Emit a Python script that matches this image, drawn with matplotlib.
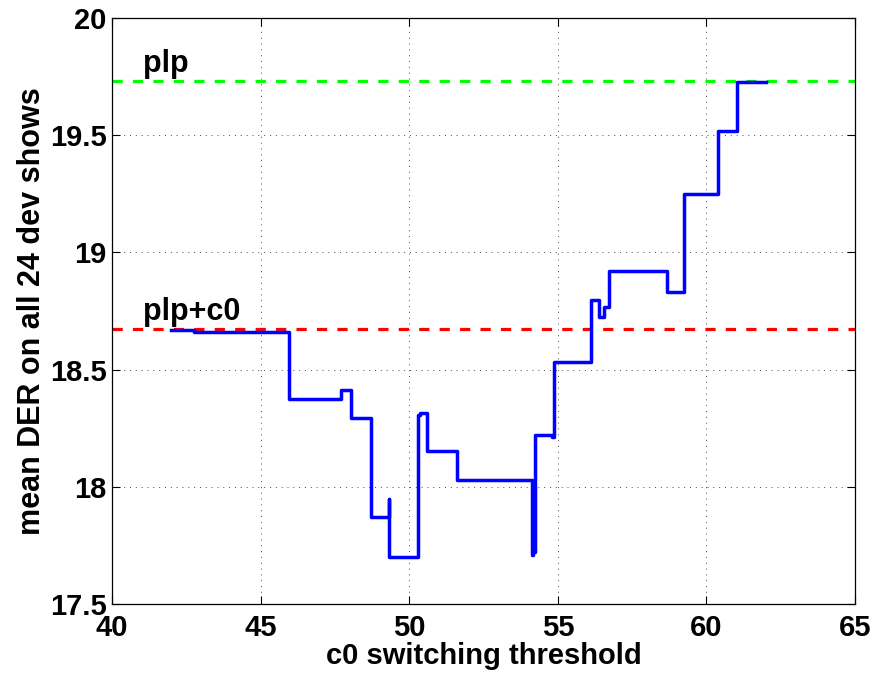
import numpy as np
import matplotlib
matplotlib.use("Agg")
import matplotlib.pyplot as plt

# step curve: mean DER vs c0 switching threshold (steps-post)
threshold = [42.0, 42.75, 45.95, 47.72, 48.05, 48.72, 49.31, 49.33, 50.28, 50.36,
             50.59, 51.62, 54.13, 54.17, 54.21, 54.24, 54.81, 54.87, 56.13, 56.39,
             56.56, 56.73, 58.66, 59.26, 60.38, 61.02, 62.0]
mean_der = [18.67, 18.66, 18.375, 18.413, 18.292, 17.87, 17.95, 17.70, 18.306, 18.316,
            18.153, 18.029, 17.71, 17.76, 17.72, 18.222, 18.212, 18.534, 18.797, 18.723,
            18.766, 18.922, 18.830, 19.249, 19.519, 19.727, 19.727]

# reference levels
plp_der = 19.73
plp_c0_der = 18.672

x_ticks = [40, 45, 50, 55, 60, 65]
y_ticks = [17.5, 18, 18.5, 19, 19.5, 20]
y_tick_labels = ["17.5", "18", "18.5", "19", "19.5", "20"]

plt.rcParams['font.family'] = ['Liberation Sans', 'DejaVu Sans']
plt.rcParams['font.weight'] = 'bold'

fig = plt.figure(figsize=(8.88, 6.73), dpi=100)
ax = fig.add_axes([112/888, 1-604/673, (855-112)/888, (604-18)/673])

# horizontal reference lines
ax.axhline(plp_der, color=(0, 1, 0), lw=2.3, dashes=(3.2, 3.2))
ax.axhline(plp_c0_der, color=(1, 0, 0), lw=2.3, dashes=(3.2, 3.2))

ax.plot(threshold, mean_der, drawstyle='steps-post', color=(0, 0, 1), lw=2.5)

ax.text(41.03, 19.77, "plp", fontsize=22, fontweight='bold', ha='left', va='baseline')
ax.text(41.04, 18.71, "plp+c0", fontsize=22, fontweight='bold', ha='left', va='baseline')

ax.set_xlim(40, 65)
ax.set_ylim(17.5, 20)
ax.set_xticks(x_ticks)
ax.set_yticks(y_ticks)
ax.set_yticklabels(y_tick_labels)

ax.grid(True, color='k', linestyle=(0, (1, 5)), linewidth=0.7, alpha=0.7)
ax.tick_params(direction='in', length=6, width=0.8, top=True, right=True,
               labelsize=21)
ax.tick_params(axis='x', pad=7)
ax.tick_params(axis='y', pad=4)
for s in ax.spines.values():
    s.set_linewidth(0.9)

ax.set_xlabel("c0 switching threshold", fontsize=21, fontweight='bold', labelpad=0)
ax.set_ylabel("mean DER on all 24 dev shows", fontsize=22, fontweight='bold', labelpad=2)

plt.savefig("out.png", dpi=100)
